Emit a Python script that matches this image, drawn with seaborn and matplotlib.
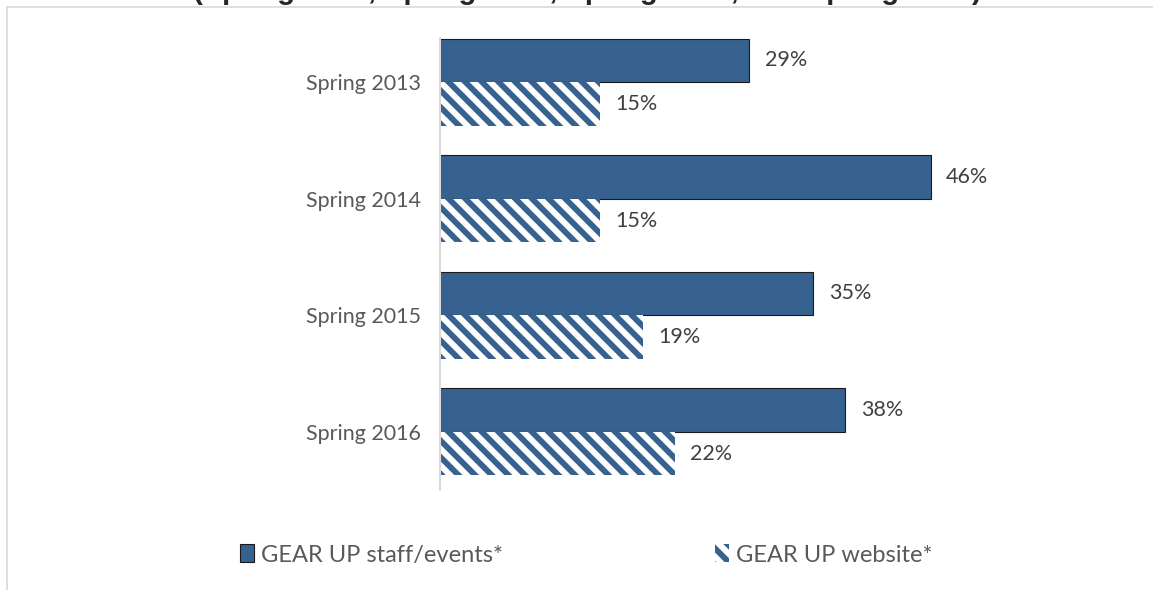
import matplotlib
matplotlib.use("Agg")
import matplotlib.pyplot as plt
import matplotlib.patches as mpatches
from matplotlib.lines import Line2D
import seaborn as sns
import pandas as pd

# 数据
years = ["Spring 2013", "Spring 2014", "Spring 2015", "Spring 2016"]
staff_events = [29, 46, 35, 38]
website = [15, 15, 19, 22]
series_names = ["GEAR UP staff/events*", "GEAR UP website*"]
title_line = "(Spring 2013, Spring 2014, Spring 2015, and Spring 2016)"

BLUE = "#37618f"
GRAY_TXT = "#595959"

df = pd.DataFrame({
    "year": years * 2,
    "pct": staff_events + website,
    "source": [series_names[0]] * len(years) + [series_names[1]] * len(years),
})

sns.set_style("white")
plt.rcParams["font.family"] = ["Lato", "DejaVu Sans"]
plt.rcParams["hatch.linewidth"] = 4.2
plt.rcParams["hatch.color"] = BLUE

fig = plt.figure(figsize=(11.53, 5.90), dpi=100)
ax = fig.add_axes([440 / 1153, 1 - 490 / 590, 640 / 1153, 466 / 590])

sns.barplot(data=df, x="pct", y="year", hue="source", orient="h",
            palette=[BLUE, BLUE], width=0.75, ax=ax, legend=False,
            saturation=1)

# 第二组柱子改成斜线填充
for i, cont in enumerate(ax.containers):
    for p in cont:
        if i == 0:
            p.set_edgecolor("#1a1a1a")
            p.set_linewidth(0.8)
        else:
            p.set_facecolor("white")
            p.set_hatch("\\\\")
            p.set_edgecolor(BLUE)
            p.set_linewidth(0)
    ax.bar_label(cont, labels=[f"{v:.0f}%" for v in cont.datavalues],
                 padding=11, fontsize=15.5, color="#404040")

ax.set_xlim(0, 60)
ax.set_ylim(3.5, -0.5)
ax.set_xlabel("")
ax.set_ylabel("")
ax.set_xticks([])
ax.tick_params(axis="y", length=0, pad=14, labelsize=15.5, labelcolor=GRAY_TXT)
for s in ["top", "right", "bottom"]:
    ax.spines[s].set_visible(False)
ax.spines["left"].set_color("#d9d9d9")
ax.spines["left"].set_linewidth(1.5)
ax.spines["left"].set_bounds(3.5, -0.38)

# 图例（两项分开放）
h1 = mpatches.Patch(facecolor=BLUE, edgecolor="#1a1a1a", linewidth=0.8)
h2 = mpatches.Patch(facecolor="white", hatch="\\\\", edgecolor=BLUE, linewidth=0)
for h, name, x0 in [(h1, series_names[0], 240), (h2, series_names[1], 715)]:
    fig.legend([h], [name], loc="center left",
               bbox_to_anchor=(x0 / 1153, 1 - 555 / 590), frameon=False,
               fontsize=17, labelcolor=GRAY_TXT, handlelength=0.6,
               handleheight=0.8, handletextpad=0.3, borderpad=0,
               borderaxespad=0)

# 标题（上方被裁掉）
fig.text(587 / 1153, 1 - 5 / 590, title_line, ha="center", va="bottom",
         fontsize=21, fontweight="bold", family=["Liberation Sans", "DejaVu Sans"])

# 外框线
fig.add_artist(Line2D([6.5 / 1153, 1], [1 - 6.5 / 590] * 2,
                      color="#d9d9d9", lw=1.2, transform=fig.transFigure))
fig.add_artist(Line2D([6.5 / 1153] * 2, [0, 1 - 6.5 / 590],
                      color="#d9d9d9", lw=1.2, transform=fig.transFigure))

fig.savefig("out.png", dpi=100)
